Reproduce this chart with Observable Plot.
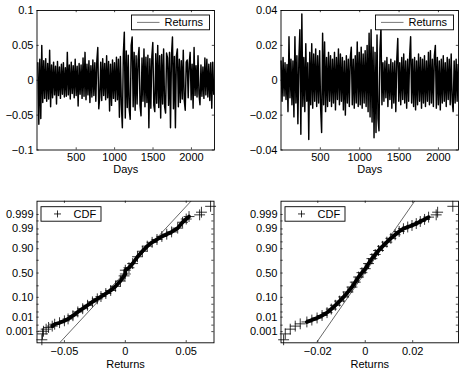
<!DOCTYPE html>
<html><head><meta charset="utf-8">
<script src="https://cdn.jsdelivr.net/npm/d3@7"></script>
<script src="https://cdn.jsdelivr.net/npm/@observablehq/plot@0.6"></script>
<style>
html,body{margin:0;padding:0;background:#fff;}
#chart{position:relative;width:463px;height:371px;overflow:hidden;background:#fff;}
#chart svg{position:absolute;left:0;top:0;}
</style></head><body><div id="chart"></div>
<script>
// ---------- DATA ----------
// Daily returns, series A (top-left), in percent, sampled across the 2300 days
const returnsPctA = [
 2.5,-6.3,3.0,-5.5,5.0,-3.2,2.8,-2.6,3.1,-3.0, 2.4,-2.7,4.3,-3.8,2.2,-2.5,2.6,-2.1,2.0,-3.4,
 2.7,-2.2,1.9,-2.6,2.3,-2.0,2.5,-2.4,1.8,-2.3, 4.0,-2.1,2.2,-2.7,2.6,-1.9,2.1,-2.5,3.0,-2.2,
 2.0,-3.7,2.4,-2.0,2.2,-2.6,3.2,-2.3,4.0,-2.8, 2.3,-2.1,2.8,-3.2,2.1,-2.4,2.9,-2.2,2.5,-3.0,
 2.7,4.7,-4.1,-2.4,2.6,-2.9,3.1,-2.2,2.4,-2.8, 3.5,-2.5,2.7,-4.4,2.3,-3.6,2.9,-2.6,2.5,-3.0,
 3.3,-2.8,3.0,-5.3,3.4,-3.5,-6.8,3.8,6.9,-5.4, 4.2,-3.9,3.6,-4.2,-5.6,5.0,6.2,-3.8,4.0,-4.3,
 3.5,-3.4,3.0,4.7,-3.6,-5.1,3.2,-3.0,4.5,-3.8, 3.3,-3.2,3.6,-6.8,3.1,-4.0,3.4,5.4,-3.6,-4.5,
 3.8,-3.3,5.0,-3.9,3.5,-5.4,3.7,-3.4,4.5,-3.8, -4.7,3.9,3.2,-3.6,4.0,-6.8,3.6,6.2,-4.1,3.4,
 -6.8,3.5,4.5,-3.8,3.0,-3.2,2.8,-2.7,4.3,-2.9, -4.3,2.6,2.9,-2.5,2.4,4.0,-2.8,2.3,-4.0,4.7,
 -2.2,2.1,-2.4,3.5,-2.0,-3.5,2.2,-2.3,1.9,-2.6, 3.2,-2.1,3.0,-2.4,2.3,-2.9,2.5,-4.0,2.6,-2.0
];
// Daily returns, series B (top-right), in percent, sampled across the 2250 days
const returnsPctB = [
 1.1,-1.2,1.3,-0.9,1.0,-1.1,0.9,-1.8,2.5,-1.0, 1.2,-1.4,1.1,-2.1,2.5,-1.3,1.4,-2.5,1.2,2.9,
 -3.1,3.8,-1.5,1.3,-1.8,2.1,-1.2,1.0,-3.4,1.6, -1.4,2.1,-1.6,1.5,-1.2,1.8,-1.5,1.4,-1.3,1.7,
 -1.6,-3.0,2.7,-1.4,2.2,-1.8,1.3,-1.5,1.6,-1.2, 1.4,-1.5,1.2,-1.3,1.6,-1.7,1.3,-1.1,1.8,-1.4,
 1.5,-1.2,1.3,-1.7,1.1,-2.0,1.4,-1.3,1.2,-1.5, 1.3,1.9,-1.4,1.2,-1.6,1.4,-1.3,2.2,-1.5,1.6,
 -1.4,1.9,-1.6,1.5,-1.3,1.7,-1.5,2.0,-1.8,2.7, -2.1,2.9,-2.4,1.9,-3.3,1.6,-3.0,2.6,-2.2,-2.9,
 1.8,3.0,-1.4,1.0,-1.2,1.1,-1.0,1.3,-1.5,0.9, -1.1,1.2,-1.6,1.0,-1.3,1.1,-1.8,1.2,2.4,-1.2,
 1.0,-1.4,1.3,-1.1,1.5,-1.3,1.1,-1.6,1.2,-1.2, 1.4,2.5,-1.3,1.2,-1.5,1.3,-1.7,1.1,-1.4,1.5,
 -1.2,1.3,-1.6,1.2,-1.3,1.4,-1.5,1.1,-1.2,1.6, -1.4,1.7,-1.3,1.2,-1.5,1.4,2.0,-1.6,1.3,-1.4,
 1.1,-1.7,1.2,-1.3,1.4,-1.2,1.0,-1.5,1.3,-1.1, 1.2,-1.4,1.5,-1.2,-1.8,1.1,-1.3,1.2,-1.2,0.9
];
const lastDayA = 2290, lastDayB = 2250;
const dayTicks = [500, 1000, 1500, 2000];
const yTicksA = [-0.1, -0.05, 0, 0.05, 0.1];
const yTicksB = [-0.04, -0.02, 0, 0.02, 0.04];

// Normal probability plot, series A: sorted returns and their normal scores
const cdfTailRetA   = [-0.0685,-0.0680,-0.0672,-0.0650,-0.0630, 0.0610,0.0625,0.0700];
const cdfTailScoreA = [-3.52,-3.21,-3.07,-2.96,-2.87, 3.07,3.21,3.52];
const cdfRetA   = [-0.060,-0.058,-0.054,-0.050,-0.047,-0.043,-0.039,-0.035,-0.031,-0.027,-0.023,-0.020,-0.016,-0.012,-0.008,-0.004,-0.001,0.000,0.000,0.003,0.006,0.010,0.014,0.018,0.022,0.026,0.030,0.034,0.038,0.043,0.047,0.050,0.0523];
const cdfScoreA = [-2.80,-2.70,-2.62,-2.52,-2.42,-2.25,-2.05,-1.88,-1.70,-1.52,-1.36,-1.24,-1.08,-0.92,-0.70,-0.42,-0.15,-0.05,0.15,0.28,0.50,0.86,1.15,1.42,1.62,1.77,1.93,2.05,2.17,2.37,2.68,2.85,2.98];
// series B
const cdfTailRetB   = [-0.0344,-0.0337,-0.0316,-0.0295,-0.0274, 0.0299,0.0305,0.0369];
const cdfTailScoreB = [-3.52,-3.21,-2.96,-2.80,-2.68, 3.07,3.21,3.52];
const cdfRetB   = [-0.0246,-0.0225,-0.0203,-0.0182,-0.0161,-0.0143,-0.0126,-0.0108,-0.0091,-0.0073,-0.0056,-0.0042,-0.0028,-0.0014,0.0,0.0014,0.0028,0.0042,0.0056,0.0073,0.0091,0.0108,0.0126,0.0143,0.0161,0.0179,0.0197,0.0215,0.0232,0.0250,0.0267];
const cdfScoreB = [-2.58,-2.48,-2.37,-2.24,-2.09,-1.90,-1.70,-1.48,-1.26,-1.00,-0.74,-0.48,-0.21,0.02,0.23,0.50,0.76,0.98,1.19,1.41,1.63,1.83,2.02,2.19,2.34,2.43,2.51,2.61,2.72,2.83,2.95];
// fitted normal reference lines (mean, standard deviation)
const fitA = {mu: -0.0008, sigma: 0.01443};
const fitB = {mu: -0.0002, sigma: 0.00554};
const probTicks = [0.001,0.003,0.01,0.02,0.05,0.10,0.25,0.50,0.75,0.90,0.95,0.98,0.99,0.997,0.999];
const probLabels = ["0.001","0.01","0.10","0.50","0.90","0.99","0.999"];
const retTicksA = [-0.05, 0, 0.05];
const retTicksB = [-0.02, 0, 0.02];

// ---------- helpers ----------
const W = 463, H = 371;
const FONT = "'Liberation Sans', Arial, Helvetica, sans-serif";
const fmtNum = v => v === 0 ? "0" : String(v).replace("-", "\u2212");

function norminv(p){
  const a=[-3.969683028665376e+01,2.209460984245205e+02,-2.759285104469687e+02,1.383577518672690e+02,-3.066479806614716e+01,2.506628277459239e+00];
  const b=[-5.447609879822406e+01,1.615858368580409e+02,-1.556989798598866e+02,6.680131188771972e+01,-1.328068155288572e+01];
  const c=[-7.784894002430293e-03,-3.223964580411365e-01,-2.400758277161838e+00,-2.549732539343734e+00,4.374664141464968e+00,2.938163982698783e+00];
  const d=[7.784695709041462e-03,3.224671290700398e-01,2.445134137142996e+00,3.754408661907416e+00];
  const pl=0.02425, ph=1-pl; let q,r;
  if(p<pl){q=Math.sqrt(-2*Math.log(p));return (((((c[0]*q+c[1])*q+c[2])*q+c[3])*q+c[4])*q+c[5])/((((d[0]*q+d[1])*q+d[2])*q+d[3])*q+1);}
  if(p<=ph){q=p-0.5;r=q*q;return (((((a[0]*r+a[1])*r+a[2])*r+a[3])*r+a[4])*r+a[5])*q/(((((b[0]*r+b[1])*r+b[2])*r+b[3])*r+b[4])*r+1);}
  q=Math.sqrt(-2*Math.log(1-p));return -(((((c[0]*q+c[1])*q+c[2])*q+c[3])*q+c[4])*q+c[5])/((((d[0]*q+d[1])*q+d[2])*q+d[3])*q+1);
}
const probZ = probTicks.map(norminv);
const labelZ = probLabels.map(s => norminv(+s));
const zLabel = z => probLabels[d3.minIndex(labelZ, l => Math.abs(l - z))];

function panel({frame, xDomain, yDomain, xTicks, xFmt, yTicks, yLabelTicks, yFmt, xLabel, xPad, labelDy, marks}) {
  const [L, R, T, B] = frame;
  const innerH = B - T, innerW = R - L, tl = 2.2;
  const tickStyle = {stroke: "#000", strokeWidth: 0.7};
  return Plot.plot({
    width: W, height: H,
    marginLeft: L, marginRight: W - R, marginTop: T, marginBottom: H - B,
    style: {fontFamily: FONT, fontSize: "11px", background: "transparent", color: "#000"},
    x: {domain: xDomain}, y: {domain: yDomain},
    marks: [
      ...marks,
      Plot.tickX(xTicks, {x: d => d, insetTop: innerH - tl, ...tickStyle}),
      Plot.tickX(xTicks, {x: d => d, insetBottom: innerH - tl, ...tickStyle}),
      Plot.tickY(yTicks, {y: d => d, insetRight: innerW - tl, ...tickStyle}),
      Plot.tickY(yTicks, {y: d => d, insetLeft: innerW - tl, ...tickStyle}),
      Plot.axisX(xTicks, {tickSize: 0, tickPadding: xPad, tickFormat: xFmt, label: null, fontSize: 11}),
      Plot.axisY(yLabelTicks, {tickSize: 0, tickPadding: 3.5, tickFormat: yFmt, label: null, fontSize: 11}),
      Plot.text([xLabel], {frameAnchor: "bottom", dy: labelDy, text: d => d, fontSize: 11}),
      Plot.frame({stroke: "#000", strokeWidth: 0.9})
    ]
  });
}

function legend(svg, {x, y, w, h, kind, label}) {
  const g = d3.select(svg).append("g");
  g.append("rect").attr("x", x).attr("y", y).attr("width", w).attr("height", h)
    .attr("fill", "#fff").attr("stroke", "#000").attr("stroke-width", 0.9);
  const cy = y + h / 2;
  if (kind === "line") {
    g.append("line").attr("x1", x + 5.5).attr("x2", x + 28).attr("y1", cy).attr("y2", cy)
      .attr("stroke", "#555").attr("stroke-width", 0.8);
  } else {
    g.append("path").attr("d", `M${x + 16.5},${cy - 3.5}v7M${x + 13},${cy}h7`)
      .attr("stroke", "#000").attr("stroke-width", 0.8).attr("fill", "none");
  }
  g.append("text").attr("x", kind === "line" ? x + 33 : x + 32.5).attr("y", cy).attr("dy", "0.36em")
    .attr("text-anchor", "start")
    .attr("font-family", FONT).attr("font-size", 11).attr("fill", "#000").text(label);
}

const chart = document.getElementById("chart");

// ---------- top-left: returns A ----------
{
  const n = returnsPctA.length;
  const rows = returnsPctA.map((v, i) => ({day: 1 + i * (lastDayA - 1) / (n - 1), r: v / 100}));
  const frame = [36.5, 214, 10, 149.5];
  const svg = panel({frame, xDomain: [-10, 2300], yDomain: [-0.1, 0.1],
    xTicks: dayTicks, xFmt: d => String(d), xPad: 3.5, labelDy: 22.5,
    yTicks: yTicksA, yLabelTicks: yTicksA, yFmt: fmtNum, xLabel: "Days",
    marks: [Plot.line(rows, {x: "day", y: "r", stroke: "#000", strokeWidth: 1.45})]});
  chart.appendChild(svg);
  legend(svg, {x: frame[1] - 4.5 - 78, y: 15, w: 78, h: 14.8, kind: "line", label: "Returns"});
}
// ---------- top-right: returns B ----------
{
  const n = returnsPctB.length;
  const rows = returnsPctB.map((v, i) => ({day: 1 + i * (lastDayB - 1) / (n - 1), r: v / 100}));
  const frame = [280.5, 458, 10, 149.5];
  const svg = panel({frame, xDomain: [0, 2255], yDomain: [-0.04, 0.04],
    xTicks: dayTicks, xFmt: d => String(d), xPad: 3.5, labelDy: 22.5,
    yTicks: yTicksB, yLabelTicks: yTicksB, yFmt: fmtNum, xLabel: "Days",
    marks: [Plot.line(rows, {x: "day", y: "r", stroke: "#000", strokeWidth: 1.45})]});
  chart.appendChild(svg);
  legend(svg, {x: frame[1] - 4.5 - 78, y: 15, w: 78, h: 14.8, kind: "line", label: "Returns"});
}
// ---------- bottom: normal probability plots ----------
function probPanel(frame, xDomain, xTicks, ret, score, tailRet, tailScore, fit) {
  const zDom = [-3.68, 3.79];
  const band = ret.map((r, i) => ({r, z: score[i]}));
  const tails = tailRet.map((r, i) => ({r, z: tailScore[i]}));
  const ref = zDom.map(z => ({r: fit.mu + fit.sigma * z, z}));
  const svg = panel({frame, xDomain, yDomain: zDom,
    xTicks, xFmt: fmtNum, xPad: 4, labelDy: 25,
    yTicks: probZ, yLabelTicks: labelZ, yFmt: zLabel, xLabel: "Returns",
    marks: [
      Plot.line(ref, {x: "r", y: "z", stroke: "#000", strokeWidth: 0.6, clip: true}),
      Plot.line(band, {x: "r", y: "z", stroke: "#000", strokeWidth: 3.8, curve: "linear"}),
      Plot.dot(band, {x: "r", y: "z", symbol: "plus", r: 3.6, stroke: "#000", strokeWidth: 0.8}),
      Plot.dot(tails, {x: "r", y: "z", symbol: "plus", r: 3.6, stroke: "#000", strokeWidth: 0.8})
    ]});
  chart.appendChild(svg);
  legend(svg, {x: frame[0] + 4.5, y: 206.7, w: 60, h: 14.5, kind: "plus", label: "CDF"});
}
probPanel([36.5, 213.5, 200.7, 342.3], [-0.0725, 0.0728], retTicksA, cdfRetA, cdfScoreA, cdfTailRetA, cdfTailScoreA, fitA);
probPanel([280.5, 458, 200.7, 342.3], [-0.0355, 0.0393], retTicksB, cdfRetB, cdfScoreB, cdfTailRetB, cdfTailScoreB, fitB);
</script></body></html>
